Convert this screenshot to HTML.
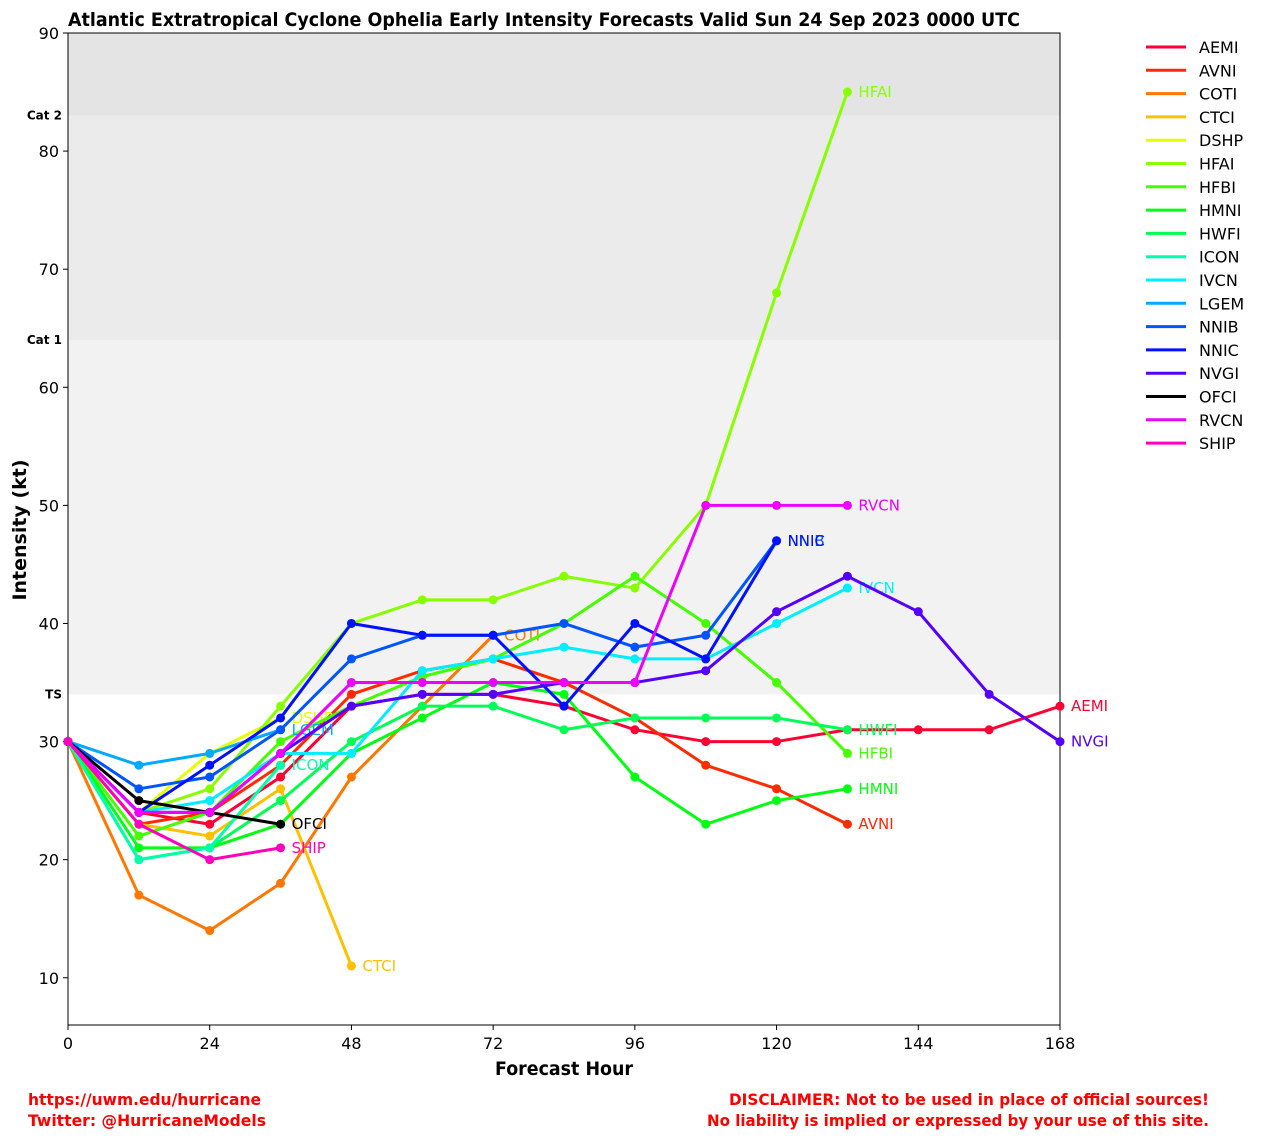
<!DOCTYPE html>
<html><head><meta charset="utf-8"><style>
body{margin:0;background:#fff;font-family:"DejaVu Sans","Liberation Sans",sans-serif}
svg text{font-family:"DejaVu Sans","Liberation Sans",sans-serif}
</style></head><body>
<svg id="chart" width="1263" height="1139" xmlns="http://www.w3.org/2000/svg">
<text x="68" y="26" font-size="19" font-weight="bold" fill="#000" textLength="952" lengthAdjust="spacingAndGlyphs">Atlantic Extratropical Cyclone Ophelia Early Intensity Forecasts Valid Sun 24 Sep 2023 0000 UTC</text>
<g id="bands"></g>
<g id="axes"></g>
<g id="series"></g>
<g id="legend"></g>
<text x="495" y="1075" font-size="19" font-weight="bold" textLength="138" lengthAdjust="spacingAndGlyphs">Forecast Hour</text>
<text transform="translate(26,530) rotate(-90)" font-size="19" font-weight="bold" text-anchor="middle">Intensity (kt)</text>
<text x="28" y="1105" font-size="16" font-weight="bold" fill="#ff0000" textLength="233" lengthAdjust="spacingAndGlyphs">https://uwm.edu/hurricane</text>
<text x="28" y="1126" font-size="16" font-weight="bold" fill="#ff0000" textLength="238" lengthAdjust="spacingAndGlyphs">Twitter: @HurricaneModels</text>
<text x="729" y="1105" font-size="16" font-weight="bold" fill="#ff0000" textLength="480" lengthAdjust="spacingAndGlyphs">DISCLAIMER: Not to be used in place of official sources!</text>
<text x="707" y="1126" font-size="16" font-weight="bold" fill="#ff0000" textLength="502" lengthAdjust="spacingAndGlyphs">No liability is implied or expressed by your use of this site.</text>
</svg>
<script>
const hours=[0,12,24,36,48,60,72,84,96,108,120,132,144,156,168];
const names=["AEMI","AVNI","COTI","CTCI","DSHP","HFAI","HFBI","HMNI","HWFI","ICON","IVCN","LGEM","NNIB","NNIC","NVGI","OFCI","RVCN","SHIP"];
const colors=["#ff0033","#ff2a00","#ff7700","#ffc000","#e5ff00","#88ff00","#44ff00","#00ff11","#00ff55","#00ffaa","#00eeff","#00aaff","#0055ff","#0011ff","#5500ff","#000000","#ee00ff","#ff00bb"];
const AEMI=[30,24,23,27,33,34,34,33,31,30,30,31,31,31,33];
const AVNI=[30,23,24,28,34,36,37,35,32,28,26,23];
const COTI=[30,17,14,18,27,33,39];
const CTCI=[30,23,22,26,11];
const DSHP=[30,24,29,32];
const HFAI=[30,24,26,33,40,42,42,44,43,50,68,85];
const HFBI=[30,22,24,30,33,35.5,37,40,44,40,35,29];
const HMNI=[30,21,21,23,29,32,35,34,27,23,25,26];
const HWFI=[30,20,21,25,30,33,33,31,32,32,32,31];
const ICON=[30,20,21,28];
const IVCN=[30,24,25,29,29,36,37,38,37,37,40,43];
const LGEM=[30,28,29,31];
const NNIB=[30,26,27,31,37,39,39,40,38,39,47];
const NNIC=[30,24,28,32,40,39,39,33,40,37,47];
const NVGI=[30,24,24,29,33,34,34,35,35,36,41,44,41,34,30];
const OFCI=[30,25,24,23];
const RVCN=[30,24,24,29,35,35,35,35,35,50,50,50];
const SHIP=[30,23,20,21];
const seriesVals=[AEMI,AVNI,COTI,CTCI,DSHP,HFAI,HFBI,HMNI,HWFI,ICON,IVCN,LGEM,NNIB,NNIC,NVGI,OFCI,RVCN,SHIP];
const yTicks=[10,20,30,40,50,60,70,80,90];
const xTicks=[0,24,48,72,96,120,144,168];
const bandNames=["TS","Cat 1","Cat 2"];
const bandVals=[34,64,83];

const X0=68,X1=1060,YMIN=6,YMAX=90,PT=33,PB=1025;
const sx=h=>X0+(h/168)*(X1-X0);
const sy=v=>PT+(YMAX-v)/(YMAX-YMIN)*(PB-PT);
const NS="http://www.w3.org/2000/svg";
function mk(t,a,p){const e=document.createElementNS(NS,t);for(const k in a)e.setAttribute(k,a[k]);p.appendChild(e);return e;}

const bands=document.getElementById('bands');
const fills=["#f2f2f2","#ebebeb","#e4e4e4"];
for(let i=0;i<bandVals.length;i++){
  const top=i<bandVals.length-1?bandVals[i+1]:YMAX;
  const r=mk('rect',{x:X0,y:sy(top),width:X1-X0,height:sy(bandVals[i])-sy(top),fill:fills[i]},bands);
  
  
  const t=mk('text',{x:62,y:sy(bandVals[i])+4,'font-size':12,'font-weight':'bold','text-anchor':'end'},bands);
  t.textContent=bandNames[i];
  
  
}
const axes=document.getElementById('axes');
const fr=mk('rect',{x:X0,y:PT,width:X1-X0,height:PB-PT,fill:'none',stroke:'#000','stroke-width':1},axes);


yTicks.forEach(v=>{
  mk('line',{x1:X0-5,x2:X0,y1:sy(v),y2:sy(v),stroke:'#000'},axes);
  const t=mk('text',{x:X0-9,y:sy(v)+6,'font-size':16,'text-anchor':'end'},axes);
  t.textContent=v;
  
  
});
xTicks.forEach(h=>{
  mk('line',{x1:sx(h),x2:sx(h),y1:PB,y2:PB+5,stroke:'#000'},axes);
  const t=mk('text',{x:sx(h),y:PB+24,'font-size':16,'text-anchor':'middle'},axes);
  t.textContent=h;
  
  
});
const sg=document.getElementById('series');
seriesVals.forEach((vals,i)=>{
  const g=mk('g',{},sg);
  
  
  const pts=vals.map((v,j)=>sx(hours[j])+','+sy(v)).join(' ');
  mk('polyline',{points:pts,fill:'none',stroke:colors[i],'stroke-width':3,'stroke-linejoin':'round'},g);
  vals.forEach((v,j)=>{
    const c=mk('circle',{cx:sx(hours[j]),cy:sy(v),r:4.5,fill:colors[i]},g);
    
    
  });
  const n=vals.length-1;
  const t=mk('text',{x:sx(hours[n])+11,y:sy(vals[n])+5,'font-size':15,fill:colors[i]},g);
  t.textContent=names[i];
  
  
});
const lg=document.getElementById('legend');
names.forEach((n,i)=>{
  const y=47+i*23.3;
  const g=mk('g',{},lg);
  
  
  mk('line',{x1:1146,x2:1186,y1:y,y2:y,stroke:colors[i],'stroke-width':3},g);
  const t=mk('text',{x:1199,y:y+6,'font-size':16},g);
  t.textContent=n;
});
</script>
</body></html>
